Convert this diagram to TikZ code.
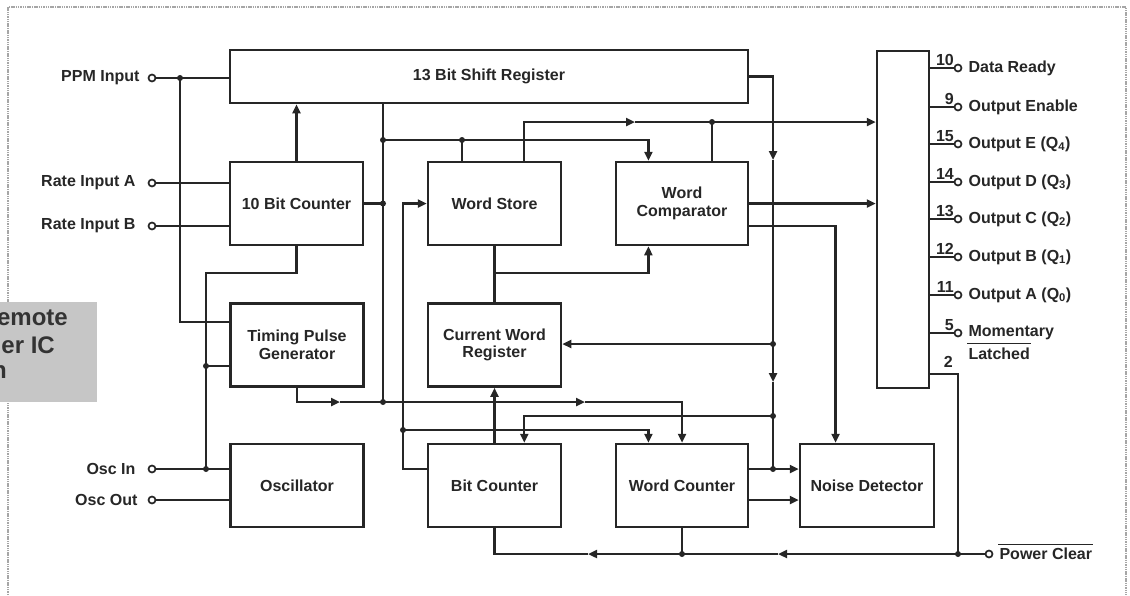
\documentclass[tikz,border=0pt]{standalone}
\usepackage{fontspec}
\setmainfont{Liberation Sans}
\usepackage{tikz}
\usetikzlibrary{arrows.meta}
\usetikzlibrary{calc}
\usetikzlibrary{positioning}
\newcommand\blocktext{\bfseries\fontsize{16}{17.5}\selectfont}
\newcommand\titletext{\bfseries\fontsize{24}{26}\selectfont}
\tikzset{
	sig/.style={line width=2.3pt, draw=black!85},
	arr/.style={sig, -{Triangle[length=9pt,width=8pt]}},
	busarr/.style={arr, line width=3pt},
	block/.style={draw=black!85, line width=2.5pt, minimum width=133pt, minimum height=83pt,
		align=center, font=\blocktext, text=black!85},
	pin/.style={circle, draw=black!85, line width=1.7pt, fill=white, inner sep=0pt, minimum size=7pt},
	pinlbl/.style={font=\blocktext, text=black!85, inner sep=1pt},
	pinnum/.style={font=\blocktext, text=black!85, inner sep=0pt, anchor=base east},
	border/.style={draw=gray!70, line width=1.8pt, dash pattern=on 1.5pt off 0.8pt}
}

\begin{document}
\begin{tikzpicture}[x=1pt, y=-1pt]
	\useasboundingbox (0,0) rectangle (1130,595);

	% ==================================================
	% 1. FRAME AND TITLE PATCH
	% ==================================================
	\draw[border] (8,595) -- (8,7) -- (1126,7) -- (1126,595);
	\begin{scope}
		\clip (0,302) rectangle (97,402);
		\fill[gray!45] (0,302) rectangle (97,402);
		\node[font=\titletext, text=black!80, anchor=east, inner sep=0pt] (tt1) at (68,318) {emote};
		\node[font=\titletext, text=black!80, anchor=east, inner sep=0pt] (tt2) at (55,345) {er IC};
		\node[font=\titletext, text=black!80, anchor=east, inner sep=0pt] (tt3) at (7,372) {n};
	\end{scope}

	% ==================================================
	% 2. BLOCKS
	% ==================================================
	\node[block, minimum width=518pt, minimum height=53pt] (shift) at (489,76.5) {13 Bit Shift Register};
	\node[block] (ctr)   at (296.5,203.5) {10 Bit Counter};
	\node[block] (tpg)   at (297,345)     {Timing Pulse\\Generator};
	\node[block] (osc)   at (297,485.5)   {Oscillator};
	\node[block] (store) at (494.5,203.5) {Word Store};
	\node[block, minimum width=132pt] (cmp) at (682,203.5) {Word\\Comparator};
	\node[block] (cwr)   at (494.5,345)   {Current Word\\Register};
	\node[block] (bitc)  at (494.5,485.5) {Bit Counter};
	\node[block, minimum width=132pt] (wordc) at (682,485.5) {Word Counter};
	\node[block, minimum width=134pt] (noise) at (867,485.5) {Noise Detector};
	\node[block, minimum width=52pt, minimum height=337pt] (outb) at (903,219.5) {};

	% ==================================================
	% 3. INPUT PINS (LEFT)
	% ==================================================
	\node[pin] (inPPM) at (152,78)  {};
	\node[pin] (inRA)  at (152,183) {};
	\node[pin] (inRB)  at (152,226) {};
	\node[pin] (inOI)  at (152,469) {};
	\node[pin] (inOO)  at (152,500) {};
	\node[pinlbl, left=7pt of inPPM] (tPPM) {PPM Input};
	\node[pinlbl, left=11pt of inRA] (tRA) {Rate Input A};
	\node[pinlbl, left=11pt of inRB] (tRB) {Rate Input B};
	\node[pinlbl, left=11pt of inOI] (tOI) {Osc In};
	\node[pinlbl, left=9pt of inOO]  (tOO) {Osc Out};

	\draw[sig] (inPPM) -- (inPPM -| shift.west);
	\draw[sig] (inRA) -- (inRA -| ctr.west);
	\draw[sig] (inRB) -- (inRB -| ctr.west);
	\draw[sig] (inOI) -- (inOI -| osc.west);
	\draw[sig] (inOO) -- (inOO -| osc.west);

	% junctions and bends
	\coordinate (jPPM) at (180,78);
	\coordinate (kCtr) at (206,273);
	\coordinate (jClk) at (206,366);
	\coordinate (jOsc) at (206,469);
	\coordinate (jA)   at (383,140);
	\coordinate (jB)   at (383,203.5);
	\coordinate (jC)   at (383,402);
	\coordinate (mTpg) at (340,402);
	\coordinate (mWc)  at (585,402);
	\coordinate (jWs)  at (462,140);
	\coordinate (mSt)  at (635,122);
	\coordinate (jCmp) at (712,122);
	\coordinate (jSt)  at (494.5,273);
	\coordinate (mSh1) at (773,160);
	\coordinate (jCw)  at (773,344);
	\coordinate (mSh2) at (773,382);
	\coordinate (jBc)  at (773,416);
	\coordinate (jNd)  at (773,469);
	\coordinate (kBc)  at (403,469);
	\coordinate (jBw)  at (403,430);
	\coordinate (jPC)  at (958,554);
	\coordinate (mPC1) at (778,554);
	\coordinate (jWc)  at (682,554);
	\coordinate (mPC2) at (588,554);

	% ==================================================
	% 4. LEFT COLUMN CONNECTIONS
	% ==================================================
	\draw[sig] (jPPM) |- (tpg.west |- 0,322);
	\draw[sig] (ctr.south) |- (kCtr) -- (jOsc);
	\draw[sig] (jClk) -- (jClk -| tpg.west);
	\draw[arr] (ctr.north) -- (ctr.north |- shift.south);
	\draw[sig] (jA |- shift.south) -- (jC);
	\draw[sig] (ctr.east) -- (jB);
	\draw[arr] (tpg.south) |- (mTpg);
	\draw[sig] (mTpg) -- (jC);
	\draw[arr] (jC) -- (mWc);
	\draw[arr] (mWc) -| (wordc.north);

	% ==================================================
	% 5. WORD STORE AND COMPARATOR
	% ==================================================
	\draw[arr] (jA) -| ($(cmp.north west)!0.25!(cmp.north east)$);
	\draw[sig] (jWs) -- (jWs |- store.north);
	\draw[arr] ($(store.north west)!0.72!(store.north east)$) |- (mSt);
	\draw[arr] (mSt) -- (mSt -| outb.west);
	\draw[sig] (jCmp) -- (jCmp |- cmp.north);
	\draw[sig] (store.south) -- (cwr.north);
	\draw[arr] (jSt) -| ($(cmp.south west)!0.25!(cmp.south east)$);
	\draw[busarr] (cmp.east) -- (cmp.east -| outb.west);
	\draw[arr] (cmp.east |- 0,226) -| ($(noise.north west)!0.27!(noise.north east)$);

	% ==================================================
	% 6. SHIFT REGISTER OUTPUT AND COUNTERS
	% ==================================================
	\draw[arr] (shift.east) -| (mSh1);
	\draw[sig] (mSh1) -- (jCw);
	\draw[arr] (jCw) -- (mSh2);
	\draw[sig] (mSh2) -- (jNd);
	\draw[arr] (jCw) -- (jCw -| cwr.east);
	\draw[arr] (jBc) -| ($(bitc.north west)!0.72!(bitc.north east)$);
	\draw[arr] (wordc.east |- jNd) -- (jNd -| noise.west);
	\draw[arr] (wordc.east |- 0,500) -- (noise.west |- 0,500);
	\draw[arr] (bitc.west |- kBc) -- (kBc) |- (store.west);
	\draw[arr] (jBw) -| ($(wordc.north west)!0.25!(wordc.north east)$);
	\draw[arr] (bitc.north) -- (cwr.south);

	% ==================================================
	% 7. OUTPUT PINS (RIGHT)
	% ==================================================
	\foreach \y/\n/\lbl in {68/10/{Data Ready}, 107/9/{Output Enable},
		144/15/{Output E (Q\textsubscript{4})}, 182/14/{Output D (Q\textsubscript{3})},
		219/13/{Output C (Q\textsubscript{2})}, 257/12/{Output B (Q\textsubscript{1})},
		295/11/{Output A (Q\textsubscript{0})}, 333/5/{Momentary}} {
		\node[pin] (o\n) at (958,\y) {};
		\draw[sig] (outb.east |- o\n) -- (o\n);
		\node[pinnum] (n\n) at (954,\y-3) {\n};
		\node[pinlbl, right=5pt of o\n] (l\n) {\lbl};
	}
	\node[pinlbl, anchor=west] (lLat) at (l5.west |- 0,354) {Latched};
	\draw[line width=1.4pt, draw=black!85] (lLat.west |- 0,343.5) -- (lLat.east |- 0,343.5);

	% pin 2 and power clear
	\node[pinnum] (n2) at (953,367) {2};
	\node[pin] (inPC) at (989,554) {};
	\node[pinlbl, right=5pt of inPC] (lPC) {Power Clear};
	\draw[line width=1.4pt, draw=black!85] ([yshift=2.5pt]lPC.north west) -- ([yshift=2.5pt]lPC.north east);
	\draw[sig] (outb.east |- 0,374) -| (jPC);
	\draw[sig] (inPC) -- (jPC);
	\draw[arr] (jPC) -- (mPC1);
	\draw[sig] (mPC1) -- (jWc);
	\draw[sig] (wordc.south) -- (jWc);
	\draw[arr] (jWc) -- (mPC2);
	\draw[sig] (mPC2) -| (bitc.south);

	% junction dots
	\foreach \j in {jPPM,jClk,jOsc,jA,jB,jC,jWs,jCmp,jCw,jBc,jNd,jBw,jPC,jWc}
		\fill[black!85] (\j) circle (3pt);

\end{tikzpicture}
\end{document}
